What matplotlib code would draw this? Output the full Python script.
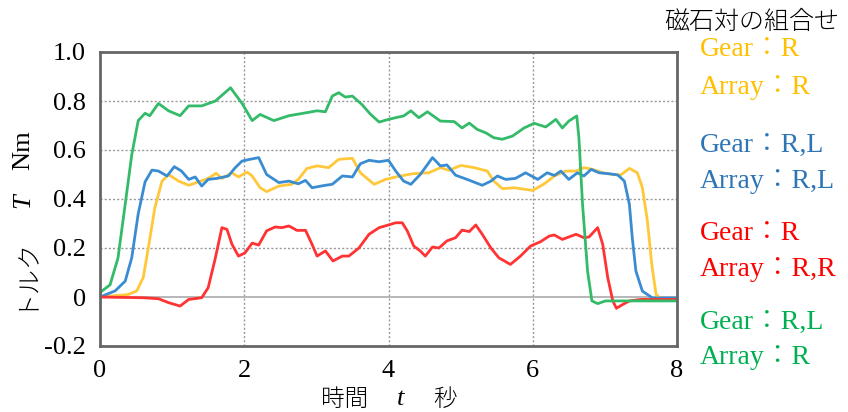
import matplotlib
matplotlib.use("Agg")
import matplotlib.pyplot as plt

# Torque vs time
t_yellow = [0.0, 0.39, 0.51, 0.60, 0.67, 0.76, 0.86, 0.95, 1.09, 1.23, 1.37, 1.50, 1.61, 1.69, 1.83,
            1.92, 2.04, 2.11, 2.22, 2.31, 2.48, 2.66, 2.75, 2.87, 3.01, 3.17, 3.31, 3.50, 3.61, 3.80,
            3.96, 4.10, 4.33, 4.56, 4.72, 4.84, 5.00, 5.19, 5.37, 5.46, 5.58, 5.74, 6.00, 6.16, 6.30,
            6.46, 6.60, 6.71, 6.83, 6.97, 7.11, 7.22, 7.34, 7.45, 7.52, 7.59, 7.65, 7.71, 7.78, 8.0]
T_yellow = [0.0, 0.01, 0.025, 0.08, 0.20, 0.364, 0.473, 0.50, 0.473, 0.456, 0.47, 0.484, 0.505, 0.484, 0.507,
            0.49, 0.51, 0.494, 0.446, 0.43, 0.453, 0.46, 0.48, 0.525, 0.535, 0.528, 0.562, 0.566, 0.507, 0.46,
            0.48, 0.49, 0.503, 0.507, 0.528, 0.517, 0.537, 0.528, 0.514, 0.473, 0.442, 0.446, 0.435, 0.462, 0.494,
            0.514, 0.514, 0.528, 0.521, 0.507, 0.50, 0.498, 0.525, 0.507, 0.446, 0.31, 0.133, 0.01, -0.008, -0.008]

t_blue = [0.0, 0.21, 0.35, 0.44, 0.53, 0.625, 0.72, 0.81, 0.93, 1.03, 1.13, 1.23, 1.32, 1.41, 1.50,
          1.62, 1.78, 1.875, 1.97, 2.08, 2.20, 2.31, 2.48, 2.62, 2.75, 2.85, 2.94, 3.125, 3.22, 3.36,
          3.50, 3.61, 3.73, 3.87, 4.00, 4.10, 4.21, 4.31, 4.44, 4.61, 4.72, 4.81, 4.93, 5.09, 5.30,
          5.42, 5.51, 5.625, 5.76, 5.90, 6.07, 6.20, 6.30, 6.39, 6.50, 6.62, 6.71, 6.81, 6.92, 7.06,
          7.18, 7.27, 7.34, 7.38, 7.43, 7.52, 7.66, 8.0]
T_blue = [0.0, 0.025, 0.065, 0.16, 0.34, 0.47, 0.518, 0.514, 0.494, 0.532, 0.514, 0.48, 0.49, 0.453, 0.48,
          0.484, 0.494, 0.528, 0.555, 0.562, 0.569, 0.50, 0.467, 0.473, 0.462, 0.476, 0.446, 0.456, 0.46, 0.494,
          0.49, 0.544, 0.558, 0.552, 0.558, 0.514, 0.473, 0.46, 0.50, 0.569, 0.535, 0.539, 0.497, 0.48, 0.456,
          0.473, 0.494, 0.48, 0.484, 0.507, 0.48, 0.507, 0.496, 0.514, 0.48, 0.507, 0.494, 0.521, 0.507, 0.503,
          0.498, 0.473, 0.378, 0.242, 0.106, 0.024, -0.004, -0.004]

t_red = [0.0, 0.60, 0.81, 0.95, 1.11, 1.23, 1.41, 1.50, 1.60, 1.69, 1.76, 1.83, 1.92, 2.01, 2.11,
         2.20, 2.31, 2.43, 2.52, 2.62, 2.73, 2.85, 2.94, 3.01, 3.125, 3.23, 3.36, 3.45, 3.59, 3.73,
         3.87, 4.00, 4.10, 4.19, 4.26, 4.35, 4.44, 4.51, 4.61, 4.70, 4.81, 4.93, 5.02, 5.12, 5.21,
         5.30, 5.42, 5.53, 5.69, 5.83, 5.97, 6.11, 6.23, 6.30, 6.41, 6.60, 6.71, 6.78, 6.90, 6.97,
         7.04, 7.11, 7.16, 7.25, 7.34, 7.50, 8.0]
T_red = [0.0, -0.003, -0.007, -0.023, -0.037, -0.01, -0.003, 0.038, 0.16, 0.283, 0.276, 0.215, 0.167, 0.18, 0.22,
         0.212, 0.27, 0.286, 0.283, 0.29, 0.272, 0.272, 0.215, 0.167, 0.188, 0.147, 0.167, 0.167, 0.20, 0.256,
         0.283, 0.294, 0.303, 0.303, 0.27, 0.208, 0.188, 0.167, 0.204, 0.20, 0.229, 0.242, 0.273, 0.267, 0.294,
         0.256, 0.20, 0.16, 0.133, 0.167, 0.208, 0.226, 0.249, 0.253, 0.235, 0.256, 0.242, 0.245, 0.283, 0.215,
         0.079, -0.016, -0.046, -0.03, -0.016, -0.01, -0.01]

t_green = [0.0, 0.14, 0.25, 0.35, 0.44, 0.53, 0.625, 0.69, 0.81, 0.95, 1.11, 1.23, 1.41, 1.60, 1.81,
           1.97, 2.11, 2.22, 2.41, 2.62, 2.82, 3.01, 3.125, 3.22, 3.31, 3.40, 3.50, 3.63, 3.75, 3.87,
           4.00, 4.10, 4.21, 4.31, 4.42, 4.54, 4.72, 4.91, 5.02, 5.12, 5.23, 5.35, 5.46, 5.58, 5.72,
           5.88, 6.02, 6.18, 6.32, 6.41, 6.50, 6.61, 6.64, 6.69, 6.76, 6.82, 6.90, 7.01, 8.0]
T_green = [0.018, 0.05, 0.16, 0.38, 0.58, 0.72, 0.75, 0.74, 0.79, 0.76, 0.74, 0.78, 0.78, 0.80, 0.854,
           0.79, 0.72, 0.745, 0.72, 0.74, 0.75, 0.76, 0.756, 0.82, 0.834, 0.816, 0.82, 0.786, 0.746, 0.714,
           0.725, 0.732, 0.739, 0.76, 0.732, 0.756, 0.718, 0.716, 0.69, 0.71, 0.684, 0.67, 0.65, 0.644, 0.657,
           0.69, 0.709, 0.694, 0.725, 0.69, 0.718, 0.739, 0.65, 0.38, 0.106, -0.016, -0.027, -0.016, -0.016]

legend_lines = [("Gear：R", "Array：R"), ("Gear：R,L", "Array：R,L"),
                ("Gear：R", "Array：R,R"), ("Gear：R,L", "Array：R")]
text_colors = ["#FFC000", "#2E75B6", "#FF0000", "#00B050"]
line_colors = ["#FFC83A", "#3A8CD2", "#FF3333", "#33BB6A"]

serif = ["Liberation Serif", "Noto Sans CJK JP"]
cjk = ["Noto Sans CJK JP", "DejaVu Sans"]

fig = plt.figure(figsize=(8.48, 4.12), dpi=100)
ax = fig.add_axes([100 / 848, 1 - 346 / 412, 577 / 848, 294 / 412])

ax.plot(t_yellow, T_yellow, color=line_colors[0], lw=2)
ax.plot(t_blue, T_blue, color=line_colors[1], lw=2)
ax.plot(t_red, T_red, color=line_colors[2], lw=2)
ax.plot(t_green, T_green, color=line_colors[3], lw=2)

ax.set_xlim(0, 8)
ax.set_ylim(-0.2, 1.0)
ax.set_xticks([0, 2, 4, 6, 8])
ax.set_yticks([-0.2, 0, 0.2, 0.4, 0.6, 0.8, 1.0])
ax.set_yticklabels(["-0.2", "0", "0.2", "0.4", "0.6", "0.8", "1.0"])
ax.tick_params(length=0, labelsize=19, pad=10)
for lab in ax.get_xticklabels() + ax.get_yticklabels():
    lab.set_family("Liberation Serif")

for x in [2, 4, 6]:
    ax.axvline(x, color="#999999", lw=1, ls=(0, (1.5, 1.5)), zorder=0)
for y in [0.2, 0.4, 0.6, 0.8]:
    ax.axhline(y, color="#999999", lw=1, ls=(0, (1.5, 1.5)), zorder=0)
ax.axhline(0, color="#aaaaaa", lw=1.2, zorder=0)
for s in ax.spines.values():
    s.set_color("#666666")
    s.set_linewidth(2)

# axis labels
fig.text(23 / 848, 1 - 272 / 412, "トルク", rotation=90, ha="center", va="center",
         fontsize=18, family=cjk, fontweight="light")
fig.text(23 / 848, 1 - 201 / 412, "T", rotation=90, ha="center", va="center",
         fontsize=19, family="Liberation Serif", style="italic")
fig.text(23 / 848, 1 - 150 / 412, "Nm", rotation=90, ha="center", va="center",
         fontsize=19, family="Liberation Serif")
fig.text(345 / 848, 1 - 399 / 412, "時間", ha="center", va="center", fontsize=17, family=cjk,
         fontweight="light")
fig.text(401 / 848, 1 - 399 / 412, "t", ha="center", va="center", fontsize=19,
         family="Liberation Serif", style="italic")
fig.text(445 / 848, 1 - 399 / 412, "秒", ha="center", va="center", fontsize=17, family=cjk,
         fontweight="light")

# legend as coloured text
fig.text(752 / 848, 1 - 22 / 412, "磁石対の組合せ", ha="center", va="center", fontsize=18,
         family=cjk, fontweight="light")
ys = [(50, 88), (145, 181), (233, 270), (322, 358)]
for (a, b), (y1, y2), c in zip(legend_lines, ys, text_colors):
    fig.text(700 / 848, 1 - y1 / 412, a, ha="left", va="center", fontsize=20, color=c,
             family=serif, fontweight="light")
    fig.text(700 / 848, 1 - y2 / 412, b, ha="left", va="center", fontsize=20, color=c,
             family=serif, fontweight="light")

fig.savefig("out.png", dpi=100)
